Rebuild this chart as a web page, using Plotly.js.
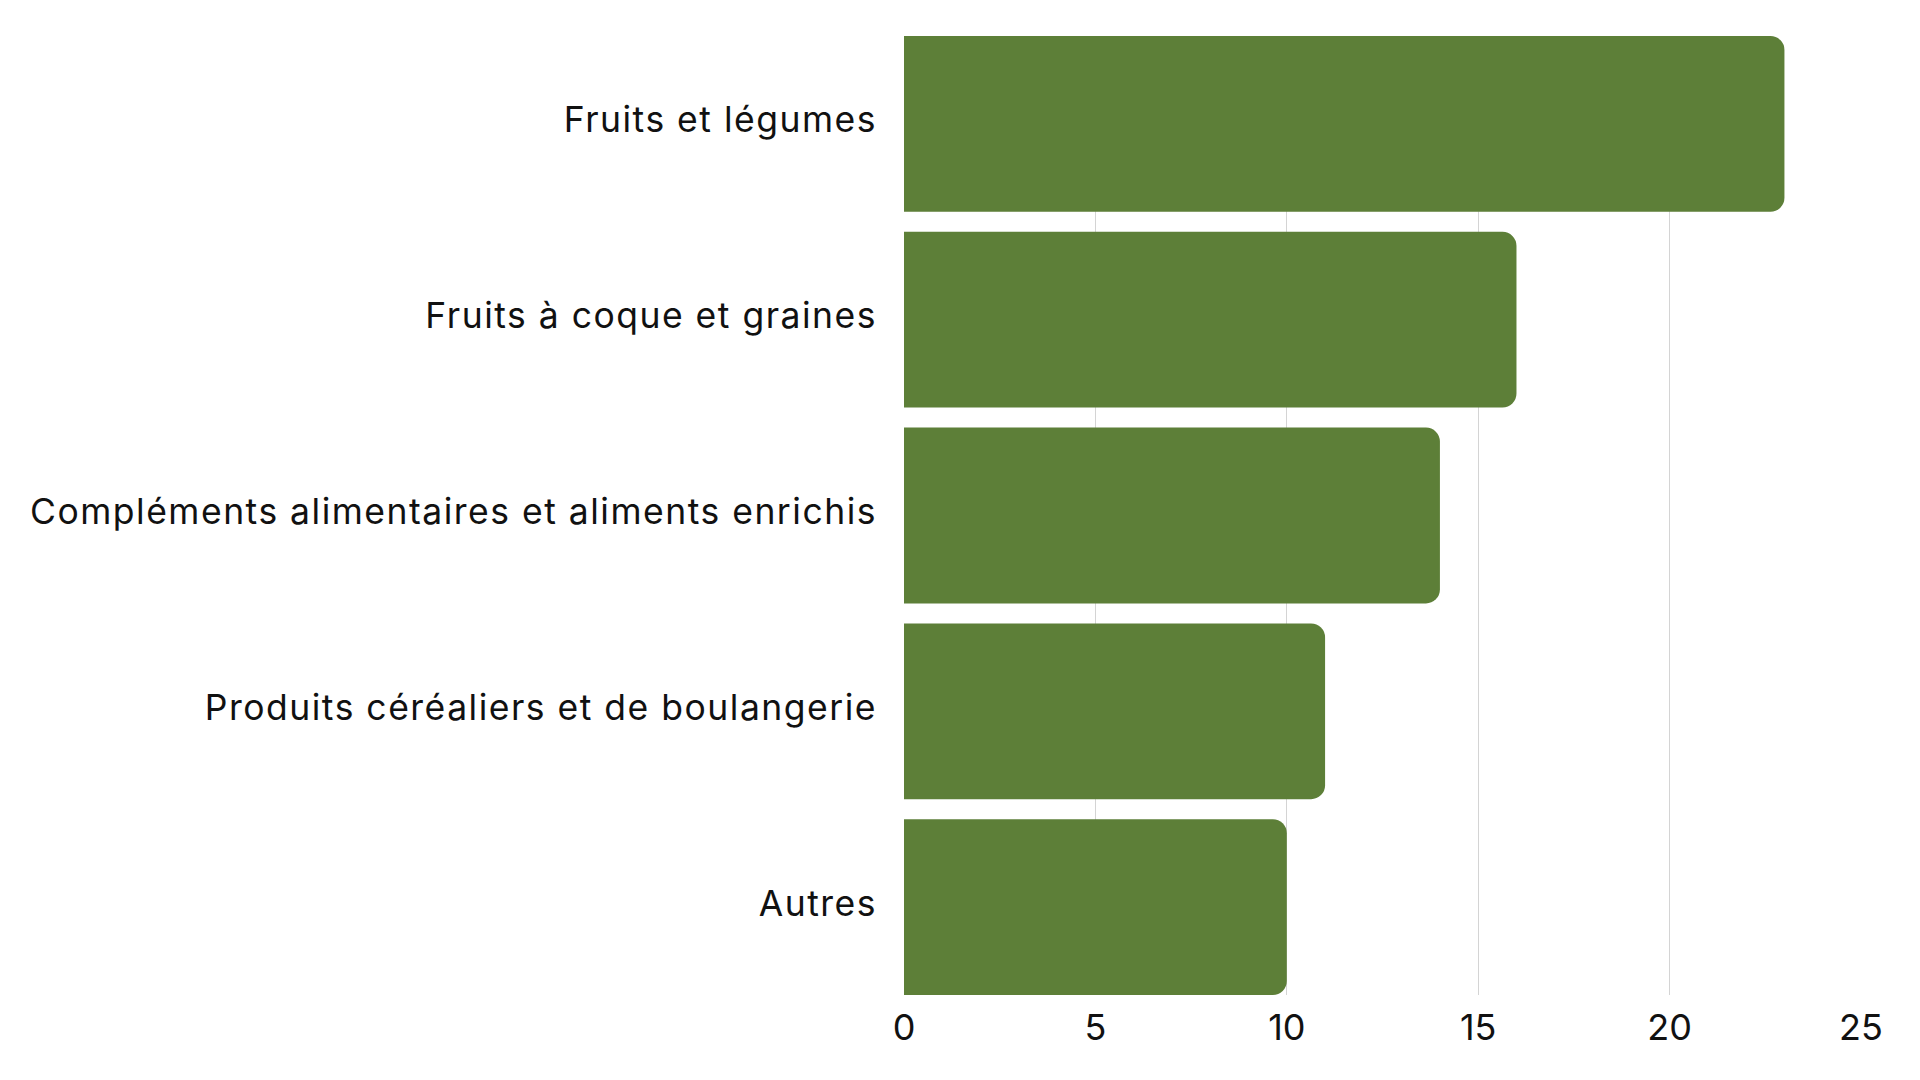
<!DOCTYPE html>
<html>
<head>
<meta charset="utf-8">
<script src="https://cdn.plot.ly/plotly-3.0.1.min.js"></script>
<style>
html,body{margin:0;padding:0;background:#fff;}
#chart{width:1920px;height:1080px;}
#chart .ytick text{letter-spacing:1.5px;}
</style>
</head>
<body>
<div id="chart"></div>
<script>
const categories = [
  "Fruits et légumes",
  "Fruits à coque et graines",
  "Compléments alimentaires et aliments enrichis",
  "Produits céréaliers et de boulangerie",
  "Autres"
];
const values = [23, 16, 14, 11, 10];
const xTicks = [0, 5, 10, 15, 20, 25];

const barGap = 0.102;
const half = (1 - barGap) / 2;

Plotly.newPlot('chart', [{
  type: 'bar',
  orientation: 'h',
  y: categories,
  x: values,
  marker: { color: '#5d7f38', cornerradius: 14, line: { width: 0 } },
  hoverinfo: 'none'
}], {
  width: 1920,
  height: 1080,
  paper_bgcolor: '#ffffff',
  plot_bgcolor: '#ffffff',
  margin: { l: 904, r: 59, t: 36, b: 85, pad: 0 },
  bargap: barGap,
  showlegend: false,
  font: { family: 'Inter, sans-serif', color: '#111111' },
  xaxis: {
    range: [0, 25],
    tickvals: xTicks,
    ticktext: xTicks.map(String),
    showgrid: true,
    gridcolor: '#d4d4d4',
    gridwidth: 1,
    zeroline: false,
    showline: false,
    ticks: '',
    tickfont: { family: 'Inter, sans-serif', size: 36, color: '#111111' },
    ticklabelstandoff: 8
  },
  yaxis: {
    type: 'category',
    range: [categories.length - 1 + half, -half],
    showgrid: false,
    zeroline: false,
    showline: false,
    ticks: '',
    tickfont: { family: 'Inter, sans-serif', size: 35.5, color: '#111111' },
    ticklabelstandoff: 26,
    ticklabelshift: 4
  }
}, { staticPlot: true });
</script>
</body>
</html>
